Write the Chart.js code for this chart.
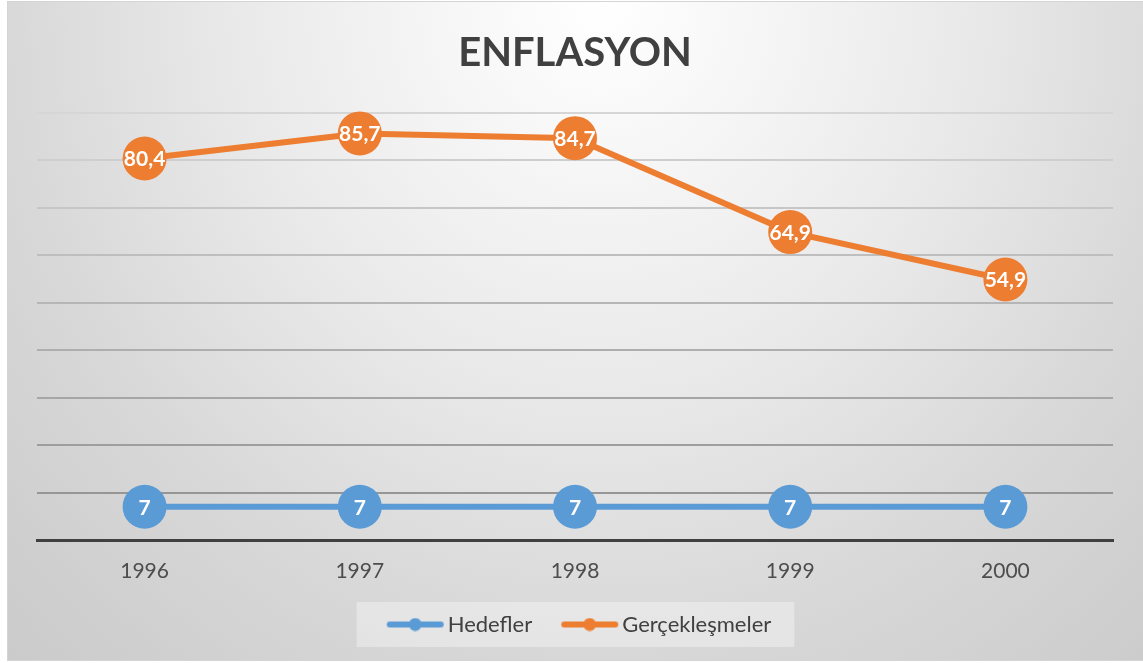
<!DOCTYPE html>
<html>
<head>
<meta charset="utf-8">
<script src="https://cdn.jsdelivr.net/npm/chart.js@4"></script>
<style>
  html, body { margin: 0; padding: 0; background: #fff; }
  #wrap { width: 1143px; height: 663px; }
</style>
</head>
<body>
<div id="wrap"><canvas id="chart" width="1143" height="663"></canvas></div>
<script>
// chart data
const years = ["1996", "1997", "1998", "1999", "2000"];
const hedefler = [7, 7, 7, 7, 7];
const gerceklesmeler = [80.4, 85.7, 84.7, 64.9, 54.9];
const seriesNames = ["Hedefler", "Gerçekleşmeler"];

const blue = "#5b9bd5";
const orange = "#ed7d31";

// legend symbol: thick line with a dot in the middle
// canvas is centred on the legend box, symbol drawn slightly to the right
function legendSymbol(color) {
  const c = document.createElement("canvas");
  c.width = 80; c.height = 14;
  const g = c.getContext("2d");
  g.strokeStyle = color;
  g.lineWidth = 6;
  g.lineCap = "round";
  g.beginPath(); g.moveTo(22, 7); g.lineTo(73, 7); g.stroke();
  g.fillStyle = color;
  g.beginPath(); g.arc(47.5, 7, 6.5, 0, Math.PI * 2); g.fill();
  return c;
}
const symbols = [legendSymbol(blue), legendSymbol(orange)];

// grey background + legend box
const bgPlugin = {
  id: "bg",
  beforeDraw(chart) {
    const ctx = chart.ctx;
    ctx.save();
    ctx.fillStyle = "#ffffff";
    ctx.fillRect(0, 0, chart.width, chart.height);
    // elliptical radial gradient
    ctx.save();
    ctx.beginPath();
    ctx.rect(7, 1, chart.width - 7, 660);
    ctx.clip();
    ctx.translate(600, 0);
    ctx.scale(1, 900 / 840);
    const grad = ctx.createRadialGradient(0, 0, 0, 0, 0, 840 * 1.2);
    grad.addColorStop(0, "#ffffff");
    grad.addColorStop(0.15 / 1.2, "#f8f8f8");
    grad.addColorStop(0.44 / 1.2, "#e9e9e9");
    grad.addColorStop(0.71 / 1.2, "#d8d8d8");
    grad.addColorStop(0.93 / 1.2, "#cecece");
    grad.addColorStop(1, "#c4c4c4");
    ctx.fillStyle = grad;
    ctx.fillRect(-700, -10, 1300, 700);
    ctx.restore();
    ctx.strokeStyle = "#d4d4d4";
    ctx.lineWidth = 1;
    ctx.strokeRect(7.5, 1.5, chart.width - 7, 659);

    // legend backdrop
    const boxes = chart.legend && chart.legend.legendHitBoxes;
    if (boxes && boxes.length) {
      const first = boxes[0], last = boxes[boxes.length - 1];
      const cy = first.top + first.height / 2;
      ctx.fillStyle = "rgba(255,255,255,0.35)";
      ctx.fillRect(first.left - 22, cy - 22.5, last.left + last.width - first.left + 45, 45);
    }
    ctx.restore();
  }
};

// white value labels inside the points
const valueLabels = {
  id: "valueLabels",
  afterDatasetsDraw(chart) {
    const ctx = chart.ctx;
    ctx.save();
    ctx.font = "bold 21px Lato";
    ctx.fillStyle = "#ffffff";
    ctx.textAlign = "center";
    ctx.textBaseline = "middle";
    chart.data.datasets.forEach((ds, i) => {
      const meta = chart.getDatasetMeta(i);
      meta.data.forEach((pt, j) => {
        const txt = String(ds.data[j]).replace(".", ",");
        ctx.fillText(txt, pt.x, pt.y + 1);
      });
    });
    ctx.restore();
  }
};

new Chart(document.getElementById("chart"), {
  type: "line",
  data: {
    labels: years,
    datasets: [
      {
        label: seriesNames[0],
        data: hedefler,
        borderColor: blue,
        backgroundColor: blue,
        borderWidth: 6,
        pointRadius: 22,
        pointHoverRadius: 22,
        pointBorderWidth: 0,
        tension: 0,
        clip: false
      },
      {
        label: seriesNames[1],
        data: gerceklesmeler,
        borderColor: orange,
        backgroundColor: orange,
        borderWidth: 6,
        pointRadius: 22,
        pointHoverRadius: 22,
        pointBorderWidth: 0,
        tension: 0,
        clip: false
      }
    ]
  },
  options: {
    responsive: false,
    animation: false,
    layout: { padding: { left: 37, right: 30, top: 0, bottom: 17.5 } },
    plugins: {
      tooltip: { enabled: false },
      title: {
        display: true,
        text: "ENFLASYON",
        color: "#404040",
        font: { family: "Lato", size: 40, weight: "bold" },
        padding: { top: 29, bottom: 36 }
      },
      legend: {
        position: "bottom",
        labels: {
          usePointStyle: true,
          pointStyleWidth: 58,
          padding: 21,
          color: "#404040",
          font: { family: "Lato", size: 22 },
          generateLabels(chart) {
            const items = Chart.defaults.plugins.legend.labels.generateLabels(chart);
            items.forEach((it, i) => { it.pointStyle = symbols[i]; });
            return items;
          }
        }
      }
    },
    scales: {
      x: {
        offset: true,
        grid: { display: false, drawTicks: false },
        border: { display: true, color: "#404040", width: 3 },
        ticks: { color: "#4d4d4d", font: { family: "Lato", size: 21 }, padding: 19 },
        afterFit(scale) { scale.height = 52.5; }
      },
      y: {
        min: 0,
        max: 90,
        ticks: { display: false, stepSize: 10 },
        border: { display: false },
        grid: {
          drawTicks: false,
          lineWidth: 2,
          color(ctx) {
            const v = ctx.tick ? ctx.tick.value : 0;
            if (v === 0) return "rgba(0,0,0,0)";
            const g = Math.round(150 + (v - 10) / 80 * 64);
            return "rgb(" + g + "," + g + "," + g + ")";
          }
        }
      }
    }
  },
  plugins: [bgPlugin, valueLabels]
});
</script>
</body>
</html>
